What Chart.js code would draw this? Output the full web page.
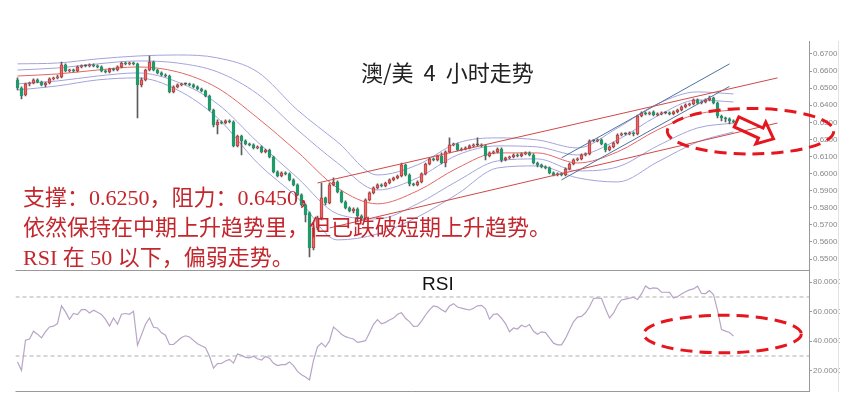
<!DOCTYPE html>
<html lang="zh-CN">
<head>
<meta charset="utf-8">
<title>澳/美 4 小时走势</title>
<script src="https://cdn.jsdelivr.net/npm/chart.js@4.4.1/dist/chart.umd.min.js"></script>
<style>
  html, body { margin: 0; padding: 0; background: #fff; }
  #page { position: relative; width: 854px; height: 402px; overflow: hidden; }
  #charts { position: absolute; left: 0; top: 0; width: 840px; height: 402px; overflow: hidden; }
  canvas { position: absolute; left: 0; }
  #main { top: 0; }
  #rsi { top: 270px; }
  .title { position: absolute; left: 361px; top: 56px; font-family: "Noto Sans CJK SC", sans-serif; font-size: 22px; line-height: 30px; color: #222; word-spacing: 5px; white-space: nowrap; }
  .note { position: absolute; left: 23px; top: 183px; font-family: "Liberation Serif", "Noto Sans CJK SC", serif; font-size: 22px; line-height: 30px; color: #c3262d; white-space: nowrap; }
  .rsi-label { position: absolute; left: 422px; top: 274px; font-family: "Liberation Sans", Arial, sans-serif; font-size: 19px; line-height: 19px; color: #111; }
</style>
</head>
<body>
<div id="page">
  <div id="charts">
    <canvas id="main" width="840" height="271"></canvas>
    <canvas id="rsi" width="840" height="122"></canvas>
  </div>
  <div class="title">澳/美 4 小时走势</div>
  <div class="note">支撑：0.6250，阻力：0.6450，<br>依然保持在中期上升趋势里，但已跌破短期上升趋势。<br>RSI 在 50 以下，偏弱走势。</div>
  <div class="rsi-label">RSI</div>
</div>
<script>
// K 线数据（每根 4 小时）
const opens = [
  .6548,.6501,.6460,.6525,.6530,.6548,.6536,.6519,.6530,.6554,
  .6560,.6565,.6636,.6601,.6606,.6601,.6624,.6630,.6630,.6636,
  .6630,.6624,.6601,.6595,.6612,.6606,.6624,.6647,.6642,.6647,
  .6642,.6519,.6548,.6606,.6653,.6606,.6589,.6577,.6571,.6478,
  .6507,.6519,.6525,.6525,.6519,.6507,.6495,.6484,.6454,.6372,
  .6285,.6302,.6296,.6308,.6302,.6162,.6220,.6191,.6174,.6168,
  .6150,.6156,.6127,.6138,.6097,.6010,.5986,.6004,.5998,.5963,
  .5934,.5875,.5817,.5770,.5565,.5682,.5741,.5858,.5828,.5934,
  .5951,.5893,.5834,.5799,.5782,.5793,.5752,.5741,.5846,.5887,
  .5916,.5934,.5928,.5945,.5963,.5975,.5986,.6051,.5992,.5940,
  .5934,.5951,.5998,.6056,.6086,.6080,.6103,.6062,.6127,.6168,
  .6174,.6138,.6144,.6150,.6162,.6168,.6168,.6162,.6103,.6121,
  .6127,.6144,.6080,.6092,.6097,.6109,.6103,.6115,.6121,.6109,
  .6062,.6051,.6039,.6033,.6004,.5992,.5998,.5992,.6027,.6056,
  .6080,.6086,.6109,.6115,.6191,.6191,.6197,.6174,.6138,.6156,
  .6179,.6226,.6232,.6232,.6238,.6232,.6337,.6355,.6349,.6361,
  .6343,.6349,.6355,.6355,.6349,.6361,.6372,.6390,.6402,.6408,
  .6431,.6413,.6419,.6431,.6443,.6413,.6337,.6326,.6320,.6308
];
const highs = [
  .6560,.6507,.6530,.6536,.6554,.6554,.6542,.6536,.6560,.6565,
  .6577,.6653,.6642,.6612,.6612,.6630,.6636,.6636,.6642,.6642,
  .6636,.6630,.6606,.6618,.6618,.6630,.6653,.6653,.6653,.6653,
  .6647,.6560,.6612,.6688,.6659,.6612,.6595,.6583,.6577,.6513,
  .6525,.6530,.6530,.6530,.6525,.6513,.6501,.6489,.6460,.6378,
  .6314,.6308,.6314,.6314,.6308,.6226,.6226,.6197,.6179,.6174,
  .6162,.6162,.6144,.6144,.6103,.6016,.6010,.6010,.6004,.5969,
  .5940,.5881,.5823,.5776,.5694,.5752,.5945,.5863,.5945,.5975,
  .5957,.5899,.5840,.5805,.5799,.5799,.5758,.5852,.5893,.5922,
  .5940,.5940,.5951,.5969,.5980,.5992,.6062,.6056,.5998,.5945,
  .5957,.6004,.6062,.6092,.6092,.6109,.6121,.6133,.6209,.6179,
  .6179,.6150,.6156,.6168,.6174,.6209,.6174,.6168,.6127,.6133,
  .6150,.6150,.6097,.6103,.6115,.6115,.6121,.6127,.6127,.6115,
  .6068,.6056,.6045,.6039,.6010,.6004,.6004,.6033,.6062,.6086,
  .6092,.6115,.6121,.6197,.6197,.6203,.6203,.6179,.6162,.6185,
  .6232,.6238,.6238,.6244,.6244,.6343,.6361,.6361,.6361,.6367,
  .6355,.6361,.6361,.6361,.6367,.6378,.6396,.6408,.6413,.6437,
  .6437,.6425,.6437,.6454,.6448,.6419,.6343,.6331,.6326,.6314
];
const lows = [
  .6489,.6437,.6454,.6513,.6525,.6530,.6513,.6507,.6525,.6548,
  .6554,.6560,.6595,.6595,.6595,.6595,.6618,.6624,.6624,.6624,
  .6618,.6595,.6589,.6589,.6601,.6601,.6618,.6636,.6636,.6636,
  .6326,.6507,.6542,.6601,.6601,.6583,.6571,.6565,.6472,.6472,
  .6501,.6513,.6519,.6513,.6501,.6489,.6478,.6448,.6367,.6273,
  .6232,.6291,.6291,.6296,.6156,.6156,.6109,.6168,.6162,.6144,
  .6144,.6121,.6121,.6092,.6004,.5980,.5980,.5992,.5957,.5928,
  .5869,.5811,.5717,.5512,.5553,.5670,.5729,.5817,.5823,.5928,
  .5887,.5828,.5793,.5776,.5770,.5717,.5729,.5735,.5840,.5881,
  .5910,.5922,.5922,.5940,.5957,.5969,.5980,.5986,.5928,.5928,
  .5928,.5945,.5992,.6051,.6074,.6074,.6056,.6039,.6121,.6162,
  .6133,.6133,.6138,.6144,.6156,.6162,.6156,.6080,.6097,.6115,
  .6121,.6068,.6074,.6086,.6092,.6097,.6097,.6109,.6103,.6056,
  .6039,.6033,.6027,.5998,.5986,.5986,.5986,.5986,.6021,.6051,
  .6074,.6080,.6103,.6109,.6185,.6185,.6168,.6127,.6133,.6150,
  .6174,.6220,.6226,.6226,.6220,.6226,.6331,.6343,.6343,.6337,
  .6337,.6343,.6349,.6343,.6343,.6355,.6367,.6384,.6396,.6402,
  .6408,.6408,.6413,.6425,.6408,.6326,.6308,.6302,.6291,.6296
];
const closes = [
  .6501,.6454,.6525,.6530,.6548,.6536,.6519,.6530,.6554,.6560,
  .6565,.6636,.6601,.6606,.6601,.6624,.6630,.6630,.6636,.6630,
  .6624,.6601,.6595,.6612,.6606,.6624,.6647,.6642,.6647,.6642,
  .6519,.6548,.6606,.6653,.6606,.6589,.6577,.6571,.6478,.6507,
  .6519,.6525,.6525,.6519,.6507,.6495,.6484,.6454,.6372,.6285,
  .6302,.6296,.6308,.6302,.6162,.6220,.6191,.6174,.6168,.6150,
  .6156,.6127,.6138,.6097,.6010,.5986,.6004,.5998,.5963,.5934,
  .5875,.5817,.5758,.5565,.5682,.5741,.5858,.5828,.5934,.5951,
  .5893,.5834,.5799,.5782,.5793,.5752,.5741,.5846,.5887,.5916,
  .5934,.5928,.5945,.5963,.5975,.5986,.6051,.5992,.5940,.5934,
  .5951,.5998,.6056,.6086,.6080,.6103,.6062,.6127,.6168,.6174,
  .6138,.6144,.6150,.6162,.6168,.6168,.6162,.6103,.6121,.6127,
  .6144,.6080,.6092,.6097,.6109,.6103,.6115,.6121,.6109,.6062,
  .6051,.6039,.6033,.6004,.5992,.5998,.5992,.6027,.6056,.6080,
  .6086,.6109,.6115,.6191,.6191,.6197,.6174,.6138,.6156,.6179,
  .6226,.6232,.6232,.6238,.6232,.6337,.6355,.6349,.6355,.6343,
  .6349,.6355,.6355,.6349,.6361,.6372,.6390,.6402,.6408,.6431,
  .6413,.6419,.6431,.6443,.6413,.6337,.6326,.6320,.6308,.6302
];

// 布林带 / 均线，每 10 根读一个点
const bandIdx  = [0, 10, 20, 30, 40, 50, 60, 70, 80, 90, 100, 110, 120, 130, 140, 150, 160, 170, 179];
const bbUpper2 = [.6642,.6647,.6671,.6688,.6694,.6677,.6595,.6372,.6185,.5992,.6051,.6179,.6209,.6197,.6150,.6267,.6408,.6478,.6466];
const bbUpper1 = [.6606,.6618,.6642,.6659,.6647,.6595,.6466,.6256,.6062,.5904,.5975,.6109,.6162,.6156,.6109,.6197,.6337,.6431,.6419];
const maMid    = [.6571,.6583,.6606,.6624,.6595,.6501,.6326,.6127,.5916,.5823,.5899,.6033,.6121,.6121,.6062,.6127,.6256,.6349,.6372];
const bbLower1 = [.6525,.6542,.6571,.6589,.6536,.6408,.6185,.5975,.5764,.5735,.5823,.5957,.6074,.6086,.6016,.6039,.6162,.6267,.6296];
const bbLower2 = [.6489,.6513,.6548,.6560,.6489,.6326,.6062,.5858,.5612,.5647,.5746,.5881,.6033,.6045,.5975,.5951,.6068,.6185,.6244];

// 趋势线 [K线序号, 价格]
const midUpper   = [[75, 0.5945], [190, 0.6560]];
const midLower   = [[78, 0.5682], [190, 0.6296]];
const shortUpper = [[136, 0.6092], [178, 0.6642]];
const shortLower = [[136, 0.5963], [178, 0.6510]];

const rsiVals = [
  26.0,20.3,40.7,41.5,46.8,44.8,42.3,46.5,49.7,50.2,
  52.0,64.0,59.9,54.9,58.8,58.1,61.5,61.5,59.2,61.0,
  59.7,58.2,54.8,50.4,55.8,51.5,58.3,58.8,58.3,60.3,
  37.3,44.3,51.5,55.8,49.5,49.0,45.7,44.1,37.8,37.9,
  40.2,42.5,43.7,42.9,40.6,38.3,37.0,35.6,29.8,21.8,
  24.8,24.9,26.6,27.7,25.2,31.3,30.5,29.1,28.7,29.9,
  28.1,27.3,29.7,28.5,25.0,23.5,24.2,24.2,26.0,23.5,
  19.6,17.3,15.7,13.8,27.0,36.2,38.8,36.2,40.2,49.7,
  47.4,44.8,43.1,42.2,41.5,39.2,39.8,40.4,45.8,51.5,
  54.7,51.8,52.8,54.4,55.7,58.3,59.3,55.6,53.3,50.0,
  50.2,53.7,57.8,61.3,64.0,63.3,61.3,59.9,63.9,65.5,
  63.2,62.5,61.8,61.2,62.4,64.0,64.3,62.0,55.0,58.3,
  58.6,55.6,52.0,46.5,49.0,48.3,50.8,49.7,51.3,46.8,
  44.8,46.4,45.9,42.3,38.7,37.6,37.6,41.9,47.7,53.2,
  56.4,56.8,59.3,63.4,69.0,69.4,69.0,62.1,55.8,59.0,
  64.4,68.0,68.6,69.2,69.8,68.3,72.1,77.5,75.6,76.2,
  75.9,73.3,73.2,73.1,69.3,70.2,72.0,73.6,74.8,75.5,
  77.3,72.4,72.3,74.3,71.6,61.0,47.9,46.9,45.9,43.6
];
const rsiLevels = [70, 30];

const priceTicks = [0.55, 0.56, 0.57, 0.58, 0.59, 0.60, 0.61, 0.62, 0.63, 0.64, 0.65, 0.66, 0.67];
const rsiTicks = [20, 40, 60, 80];

// 标注（数据坐标）
const mainEllipse = {x: 183.25, y: 0.6248, rx: 20.8, ry: 0.0133};
const mainArrow = {from: [179.75, 0.6302], to: [189, 0.6203]};
const rsiEllipse = {x: 176.25, y: 44.9, rx: 19.7, ry: 12.7};

// ---------------------------------------------------------------
const X_MIN = -0.5, X_MAX = 197.875;
const UP = '#e56b6b', UP_EDGE = '#c23b3b', DOWN = '#1f9a6a', FLAT = '#555';
const LAV = '#a3a3dc', MA_RED = '#e46565', TR_RED = '#d04848', TR_BLUE = '#4d73a3';

const bars = closes.map((c, i) => i);
const bodies = bars.map(i => ({x: i, y: [opens[i], closes[i]]}));
const wicks = bars.map(i => ({x: i, y: [lows[i], highs[i]]}));
const fill = c => {
  const i = c.dataIndex;
  return closes[i] > opens[i] ? UP : closes[i] < opens[i] ? DOWN : FLAT;
};
const edge = c => {
  const i = c.dataIndex;
  return closes[i] > opens[i] ? UP_EDGE : closes[i] < opens[i] ? DOWN : FLAT;
};
const pts = (xs, ys) => xs.map((x, k) => ({x: x, y: ys[k]}));
const seg = s => s.map(p => ({x: p[0], y: p[1]}));

function lineSet(data, color, order, smooth) {
  return {
    type: 'line', data: data, borderColor: color, borderWidth: 1,
    pointRadius: 0, order: order,
    cubicInterpolationMode: smooth ? 'monotone' : 'default', tension: 0
  };
}

function axisY(min, max, ticks, digits) {
  return {
    type: 'linear', position: 'right', min: min, max: max,
    afterBuildTicks: s => { s.ticks = ticks.map(v => ({value: v})); },
    afterFit: s => { s.width = 31; s.paddingTop = 0; s.paddingBottom = 0; },
    grid: {drawOnChartArea: false, color: '#999', tickLength: 3},
    border: {color: '#999'},
    ticks: {
      padding: 1, color: '#888', font: {family: 'Liberation Sans', size: 8},
      callback: v => Number(v).toFixed(digits)
    }
  };
}

function dashedEllipse(ctx, xs, ys, e) {
  const cx = xs.getPixelForValue(e.x), cy = ys.getPixelForValue(e.y);
  const rx = Math.abs(xs.getPixelForValue(e.x + e.rx) - cx);
  const ry = Math.abs(ys.getPixelForValue(e.y + e.ry) - cy);
  ctx.save();
  ctx.strokeStyle = '#e5161d';
  ctx.lineWidth = 3;
  ctx.setLineDash([12, 7]);
  ctx.beginPath();
  ctx.ellipse(cx, cy, rx, ry, 0, 0, Math.PI * 2);
  ctx.stroke();
  ctx.restore();
}

function blockArrow(ctx, xs, ys, a) {
  const x0 = xs.getPixelForValue(a.from[0]), y0 = ys.getPixelForValue(a.from[1]);
  const x1 = xs.getPixelForValue(a.to[0]), y1 = ys.getPixelForValue(a.to[1]);
  const len = Math.hypot(x1 - x0, y1 - y0);
  const sw = 5.5, hw = 12, hl = 14;
  ctx.save();
  ctx.translate(x0, y0);
  ctx.rotate(Math.atan2(y1 - y0, x1 - x0));
  ctx.strokeStyle = '#e5161d';
  ctx.lineWidth = 3;
  ctx.lineJoin = 'miter';
  ctx.beginPath();
  ctx.moveTo(0, -sw);
  ctx.lineTo(len - hl, -sw);
  ctx.lineTo(len - hl, -hw);
  ctx.lineTo(len, 0);
  ctx.lineTo(len - hl, hw);
  ctx.lineTo(len - hl, sw);
  ctx.lineTo(0, sw);
  ctx.closePath();
  ctx.stroke();
  ctx.restore();
}

const marks = {
  id: 'marks',
  afterDraw(chart, args, o) {
    const {ctx, chartArea: a} = chart;
    const xs = chart.scales.x, ys = chart.scales.y;
    ctx.save();
    ctx.lineWidth = 1;
    ctx.strokeStyle = '#999';
    ctx.beginPath();
    ctx.moveTo(a.left, a.bottom + 0.5);
    ctx.lineTo(a.right, a.bottom + 0.5);
    ctx.stroke();
    ctx.strokeStyle = '#e2e2e2';
    ctx.beginPath();
    ctx.moveTo(838.5, a.top);
    ctx.lineTo(838.5, chart.height);
    ctx.stroke();
    ctx.restore();
    (o.ellipses || []).forEach(e => dashedEllipse(ctx, xs, ys, e));
    (o.arrows || []).forEach(ar => blockArrow(ctx, xs, ys, ar));
  }
};

const common = {
  responsive: false,
  animation: false,
  events: [],
  plugins: {legend: {display: false}, tooltip: {enabled: false}}
};

new Chart(document.getElementById('main'), {
  type: 'bar',
  data: {
    datasets: [
      lineSet(seg(midUpper), TR_RED, 0, false),
      lineSet(seg(midLower), TR_RED, 0, false),
      lineSet(seg(shortUpper), TR_BLUE, 0, false),
      lineSet(seg(shortLower), TR_BLUE, 0, false),
      {
        type: 'bar', data: bodies, backgroundColor: fill, borderColor: edge,
        borderWidth: 1, borderSkipped: false, barThickness: 3, minBarLength: 1,
        grouped: false, order: 1
      },
      {
        type: 'bar', data: wicks, backgroundColor: '#5c5c5c',
        barThickness: 1, grouped: false, order: 2
      },
      lineSet(pts(bandIdx, bbUpper2), LAV, 3, true),
      lineSet(pts(bandIdx, bbUpper1), LAV, 3, true),
      lineSet(pts(bandIdx, maMid), MA_RED, 3, true),
      lineSet(pts(bandIdx, bbLower1), LAV, 3, true),
      lineSet(pts(bandIdx, bbLower2), LAV, 3, true)
    ]
  },
  options: Object.assign({}, common, {
    layout: {padding: {left: 15.5, right: 0, top: 41, bottom: 1}},
    scales: {
      x: {type: 'linear', min: X_MIN, max: X_MAX, offset: false, display: false},
      y: axisY(0.54359, 0.67758, priceTicks, 4)
    },
    plugins: Object.assign({}, common.plugins, {
      marks: {ellipses: [mainEllipse], arrows: [mainArrow]}
    })
  }),
  plugins: [marks]
});

new Chart(document.getElementById('rsi'), {
  type: 'line',
  data: {
    datasets: [
      Object.assign(lineSet(rsiVals.map((v, i) => ({x: i, y: v})), '#b7a4c7', 0, false), {borderWidth: 1.2}),
      ...rsiLevels.map(l => Object.assign(
        lineSet([{x: X_MIN, y: l}, {x: X_MAX, y: l}], '#adadad', 1, false),
        {borderDash: [4, 3]}
      ))
    ]
  },
  options: Object.assign({}, common, {
    layout: {padding: {left: 15.5, right: 0, top: 0, bottom: 1}},
    scales: {
      x: {type: 'linear', min: X_MIN, max: X_MAX, offset: false, display: false},
      y: axisY(6.27, 88.3, rsiTicks, 4)
    },
    plugins: Object.assign({}, common.plugins, {
      marks: {ellipses: [rsiEllipse], arrows: []}
    })
  }),
  plugins: [marks]
});
</script>
</body>
</html>
